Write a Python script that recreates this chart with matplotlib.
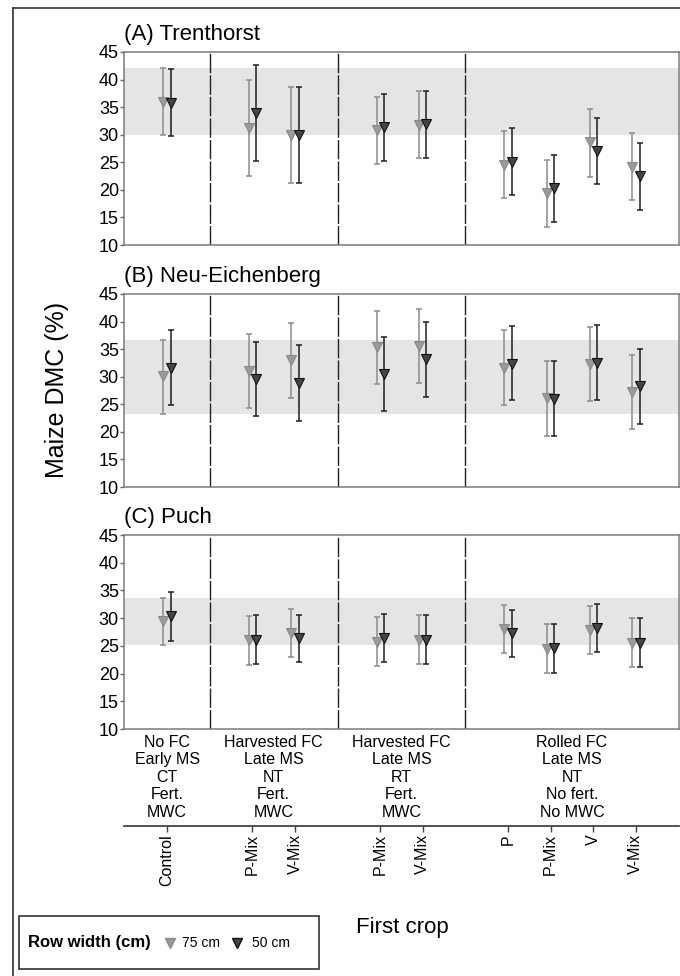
import numpy as np
import matplotlib
matplotlib.use('Agg')
import matplotlib.pyplot as plt
from matplotlib.lines import Line2D
from matplotlib.patches import Rectangle
import matplotlib.transforms as mtransforms

plt.rcParams['font.family'] = ['Liberation Sans', 'DejaVu Sans']

# treatments (first crop) and the management groups they belong to
crops = ['Control', 'P-Mix', 'V-Mix', 'P-Mix', 'V-Mix', 'P', 'P-Mix', 'V', 'V-Mix']
group_sizes = [1, 2, 2, 4]
group_labels = ['No FC\nEarly MS\nCT\nFert.\nMWC',
                'Harvested FC\nLate MS\nNT\nFert.\nMWC',
                'Harvested FC\nLate MS\nRT\nFert.\nMWC',
                'Rolled FC\nLate MS\nNT\nNo fert.\nNo MWC']

sites = ['(A) Trenthorst', '(B) Neu-Eichenberg', '(C) Puch']

# 75 cm row width: mean, lower and upper limit
mean75 = [[36.0, 31.2, 30.0, 30.8, 31.8, 24.5, 19.4, 28.6, 24.2],
          [30.1, 31.1, 33.1, 35.4, 35.6, 31.5, 26.1, 32.3, 27.3],
          [29.4, 26.0, 27.3, 25.7, 26.1, 28.1, 24.4, 27.9, 25.6]]
lo75 = [[30.0, 22.5, 21.2, 24.7, 25.7, 18.5, 13.3, 22.4, 18.1],
        [23.2, 24.4, 26.2, 28.6, 28.8, 24.9, 19.3, 25.6, 20.5],
        [25.1, 21.6, 22.9, 21.4, 21.7, 23.7, 20.1, 23.5, 21.1]]
hi75 = [[42.1, 40.0, 38.6, 36.8, 37.9, 30.6, 25.4, 34.7, 30.3],
        [36.7, 37.8, 39.8, 42.0, 42.3, 38.4, 32.8, 39.1, 34.0],
        [33.6, 30.3, 31.6, 30.2, 30.6, 32.4, 28.9, 32.2, 30.0]]

# 50 cm row width
mean50 = [[35.8, 34.0, 30.0, 31.4, 31.9, 25.1, 20.3, 27.0, 22.5],
          [31.6, 29.5, 28.9, 30.5, 33.2, 32.3, 26.0, 32.5, 28.3],
          [30.3, 26.1, 26.4, 26.4, 26.1, 27.3, 24.6, 28.3, 25.6]]
lo50 = [[29.8, 25.3, 21.2, 25.3, 25.7, 19.0, 14.2, 21.0, 16.4],
        [24.8, 22.8, 22.0, 23.7, 26.4, 25.7, 19.2, 25.8, 21.4],
        [25.9, 21.7, 22.0, 22.0, 21.7, 22.9, 20.1, 23.9, 21.2]]
hi50 = [[42.0, 42.7, 38.7, 37.4, 37.9, 31.2, 26.3, 33.1, 28.5],
        [38.4, 36.3, 35.8, 37.2, 39.9, 39.2, 32.8, 39.3, 35.1],
        [34.7, 30.5, 30.6, 30.7, 30.5, 31.5, 29.0, 32.6, 30.0]]

# x positions: one slot per crop, one empty slot between groups
pos = []
seps = []
x = 1
for g, n in enumerate(group_sizes):
    if g > 0:
        seps.append(x - 1)
    for i in range(n):
        pos.append(x)
        x += 1
    x += 1
pos = np.array(pos, dtype=float)
xmax = x - 1

W, H = 680, 976
fig = plt.figure(figsize=(W / 100, H / 100), dpi=100)

left = 124.5 / W
width = 554 / W
panel_px = [(52, 245), (294, 487), (535, 729)]

light_fc, light_ec, light_bar = '#9a9a9a', '#8a8a8a', '#8c8c8c'
dark_fc, dark_ec, dark_bar = '#454545', '#111111', '#1e1e1e'
off = 0.085

for k, (top, bot) in enumerate(panel_px):
    ax = fig.add_axes([left, 1 - bot / H, width, (bot - top) / H])
    # reference band = CI of the control at 75 cm
    ax.axhspan(lo75[k][0], hi75[k][0], color='#e5e5e5', zorder=0, lw=0)
    for s in seps:
        ax.axvline(s, color='#222222', lw=1.0, ls=(0, (14, 1.5)), zorder=1)
    m = np.array(mean75[k])
    ax.errorbar(pos - off, m, yerr=[m - np.array(lo75[k]), np.array(hi75[k]) - m],
                fmt='none', ecolor=light_bar, elinewidth=1.1, capsize=2, capthick=1.1, zorder=2)
    ax.plot(pos - off, m, 'v', ms=7.5, mfc=light_fc, mec=light_ec, mew=0.8, zorder=3)
    m = np.array(mean50[k])
    ax.errorbar(pos + off, m, yerr=[m - np.array(lo50[k]), np.array(hi50[k]) - m],
                fmt='none', ecolor=dark_bar, elinewidth=1.1, capsize=2, capthick=1.1, zorder=4)
    ax.plot(pos + off, m, 'v', ms=7.5, mfc=dark_fc, mec=dark_ec, mew=0.8, zorder=5)

    ax.set_xlim(0, xmax)
    ax.set_ylim(10, 45)
    ax.set_yticks(np.arange(10, 46, 5))
    ax.set_xticks([])
    ax.tick_params(axis='y', labelsize=13, length=3, width=1, color='#666666', pad=1)
    for sp in ax.spines.values():
        sp.set_color('#7a7a7a')
        sp.set_linewidth(1.1)
    ax.set_title(sites[k], loc='left', fontsize=16, pad=8.5)

# bottom axis with treatment labels
axd = fig.add_axes([left, 1 - 826 / H, width, 0.001])
axd.set_xlim(0, xmax)
axd.set_ylim(0, 1)
axd.set_yticks([])
axd.set_xticks(pos)
axd.set_xticklabels(crops, rotation=90, fontsize=11.5)
axd.tick_params(axis='x', length=4, width=1, color='#444444', pad=2)
for name, sp in axd.spines.items():
    sp.set_visible(name == 'bottom')
axd.spines['bottom'].set_color('#333333')
axd.spines['bottom'].set_linewidth(1.2)
axd.patch.set_visible(False)

trans = mtransforms.blended_transform_factory(axd.transData, fig.transFigure)
start = 0
for n, lab in zip(group_sizes, group_labels):
    cx = pos[start:start + n].mean()
    axd.text(cx, 1 - 735 / H, lab, transform=trans, ha='center', va='top',
             fontsize=11.5, linespacing=1.2)
    start += n

fig.text(57 / W, 1 - 390 / H, 'Maize DMC (%)', rotation=90, ha='center', va='center', fontsize=18)
fig.text(402 / W, 1 - 927 / H, 'First crop', ha='center', va='center', fontsize=16)

# legend box
fig.add_artist(Rectangle((19 / W, 1 - 969 / H), 300 / W, 53 / H, transform=fig.transFigure,
                         fill=False, ec='#333333', lw=1.2))
ly = 1 - 943 / H
fig.text(28 / W, ly, 'Row width (cm)', fontsize=12, fontweight='bold', va='center')
fig.add_artist(Line2D([170 / W], [ly], marker='v', ms=6.5, mfc=light_fc, mec=light_ec,
                      transform=fig.transFigure))
fig.text(182 / W, ly, '75 cm', fontsize=10, va='center')
fig.add_artist(Line2D([237 / W], [ly], marker='v', ms=6.5, mfc=dark_fc, mec=dark_ec,
                      transform=fig.transFigure))
fig.text(252 / W, ly, '50 cm', fontsize=10, va='center')

# outer frame (top and left edge)
fig.add_artist(Line2D([13 / W, 1], [1 - 8 / H, 1 - 8 / H], color='#333333', lw=1.2,
                      transform=fig.transFigure))
fig.add_artist(Line2D([13 / W, 13 / W], [0, 1 - 8 / H], color='#333333', lw=1.2,
                      transform=fig.transFigure))

fig.savefig('out.png', dpi=100)
